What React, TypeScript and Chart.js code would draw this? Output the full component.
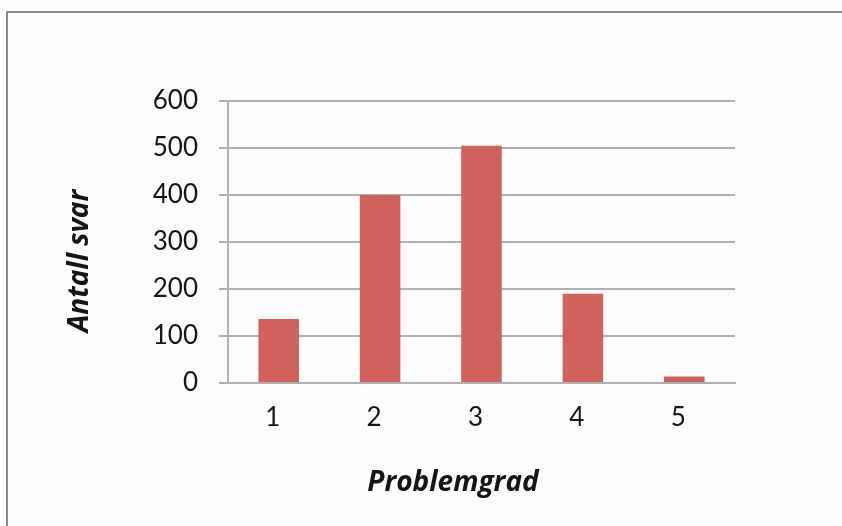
import React, { useEffect, useRef } from "react";
import { Chart, registerables } from "chart.js";

Chart.register(...registerables);

const categories: string[] = ["1", "2", "3", "4", "5"];
const antallSvar: number[] = [136, 400, 505, 190, 14];
const yTicks = { min: 0, max: 600, step: 100 };
const xTitle = "Problemgrad";
const yTitle = "Antall svar";

const FONT = "Lato";
const TITLE_FONT = "'Open Sans'";
const TEXT = "#151515";
const GRID = "#b0b0b0";
const BAR = "#d0625b";

const titlePlugin = {
  id: "axisTitles",
  afterDraw(chart: any) {
    const ctx = chart.ctx as CanvasRenderingContext2D;
    ctx.save();
    ctx.fillStyle = TEXT;
    ctx.textAlign = "center";
    ctx.textBaseline = "middle";
    ctx.font = `italic bold 28px ${TITLE_FONT}`;
    ctx.fillText(xTitle, 453, 483);
    ctx.translate(80, 261);
    ctx.rotate(-Math.PI / 2);
    ctx.font = `italic bold 28px ${TITLE_FONT}`;
    ctx.fillText(yTitle, 0, 0);
    ctx.restore();
  },
};

export default function App() {
  const ref = useRef<HTMLCanvasElement | null>(null);

  useEffect(() => {
    if (!ref.current) return;
    const chart = new Chart(ref.current, {
      type: "bar",
      data: {
        labels: categories,
        datasets: [
          {
            data: antallSvar,
            backgroundColor: BAR,
            borderWidth: 0,
            barPercentage: 0.4,
            categoryPercentage: 1,
          },
        ],
      },
      options: {
        responsive: false,
        animation: false,
        devicePixelRatio: 1,
        layout: { padding: { left: 20, top: 101, right: 107, bottom: 10 } },
        plugins: {
          legend: { display: false },
          tooltip: { enabled: false },
          title: { display: false },
        },
        scales: {
          x: {
            grid: { display: false, drawTicks: false },
            border: { color: GRID, width: 2 },
            ticks: {
              font: { family: FONT, size: 26 },
              color: TEXT,
              padding: 19,
              labelOffset: -6,
            },
            afterFit: (s: any) => {
              s.height = 133;
            },
          },
          y: {
            min: yTicks.min,
            max: yTicks.max,
            ticks: {
              stepSize: yTicks.step,
              font: { family: FONT, size: 26 },
              color: TEXT,
              padding: 21,
            },
            grid: { color: GRID, lineWidth: 2, tickLength: 9, drawTicks: true },
            border: { color: GRID, width: 2 },
            afterFit: (s: any) => {
              s.width = 208;
            },
          },
        },
      },
      plugins: [titlePlugin],
    });
    return () => chart.destroy();
  }, []);

  return (
    <div
      style={{
        position: "fixed",
        left: 0,
        top: 0,
        width: 842,
        height: 526,
        overflow: "hidden",
        background: "#fdfdfd",
      }}
    >
      <div
        style={{
          position: "absolute",
          left: 6,
          top: 11,
          width: 900,
          height: 600,
          borderLeft: "2px solid #8a8a8a",
          borderTop: "2px solid #8a8a8a",
        }}
      />
      <canvas
        ref={ref}
        width={842}
        height={526}
        style={{ position: "absolute", left: 0, top: 0, width: 842, height: 526 }}
      />
    </div>
  );
}
